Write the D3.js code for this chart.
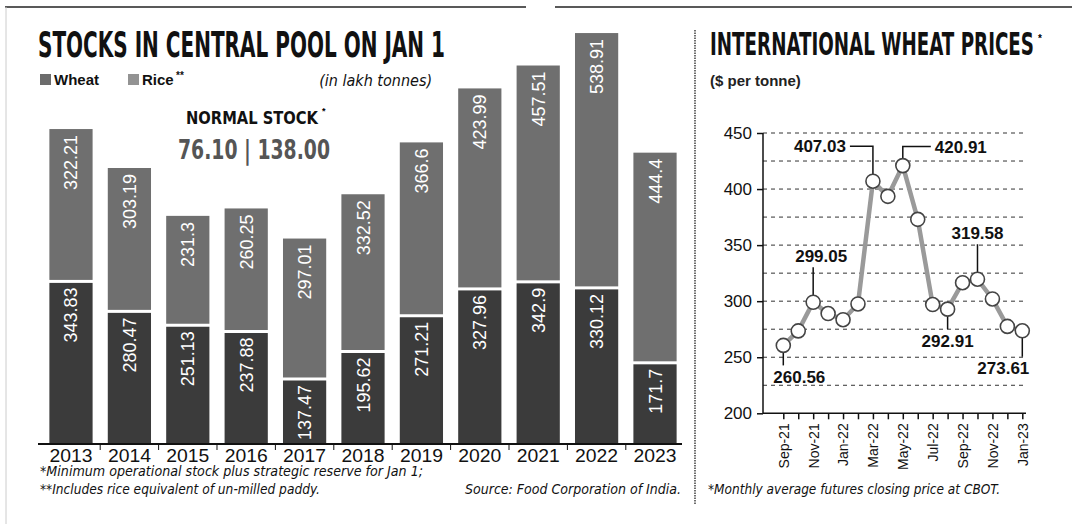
<!DOCTYPE html>
<html>
<head>
<meta charset="utf-8">
<script src="https://cdn.jsdelivr.net/npm/d3@7"></script>
<style>
  body { margin: 0; background: #fff; }
  svg { display: block; font-family: "Liberation Sans", Arial, sans-serif; }
  .cond { font-family: "Liberation Sans Narrow", "DejaVu Sans Condensed", sans-serif; }
</style>
</head>
<body>
<svg width="1072" height="524"></svg>
<script>
// ---- data: stocks in central pool (lakh tonnes) ----
const years = ["2013","2014","2015","2016","2017","2018","2019","2020","2021","2022","2023"];
const wheat = [343.83, 280.47, 251.13, 237.88, 137.47, 195.62, 271.21, 327.96, 342.9, 330.12, 171.7];
const rice  = [322.21, 303.19, 231.3, 260.25, 297.01, 332.52, 366.6, 423.99, 457.51, 538.91, 444.4];

// ---- data: international wheat prices ($ per tonne) ----
const months = ["Sep-21","Oct-21","Nov-21","Dec-21","Jan-22","Feb-22","Mar-22","Apr-22","May-22",
                "Jun-22","Jul-22","Aug-22","Sep-22","Oct-22","Nov-22","Dec-22","Jan-23"];
const prices = [260.56, 273.5, 299.05, 289, 283.5, 297.5, 407.03, 393.5, 420.91,
                373, 297, 292.91, 316.5, 319.58, 302, 277.5, 273.61];
const priceTicks = [200, 250, 300, 350, 400, 450];
const priceGrid = [225, 250, 275, 300, 325, 350, 375, 400, 425, 450];

const svg = d3.select("svg");
const wheatColor = "#3b3b3b", riceColor = "#6f6f6f";

// frame lines
svg.append("line").attr("x1", 5).attr("x2", 526).attr("y1", 7).attr("y2", 7)
  .attr("stroke", "#222").attr("stroke-width", 1.5);
svg.append("line").attr("x1", 555).attr("x2", 1072).attr("y1", 7).attr("y2", 7)
  .attr("stroke", "#222").attr("stroke-width", 1.5);
svg.append("line").attr("x1", 6).attr("x2", 6).attr("y1", 7).attr("y2", 524)
  .attr("stroke", "#ccc").attr("stroke-width", 1);
svg.append("line").attr("x1", 695).attr("x2", 695).attr("y1", 30).attr("y2", 505)
  .attr("stroke", "#222").attr("stroke-width", 1.3).attr("stroke-dasharray", "1.5,1");

// ================= left: stacked bars =================
const x = d3.scaleBand().domain(years).range([34.2, 691.8]).paddingInner(0.26).paddingOuter(0.26);
const y = d3.scaleLinear().domain([0, 870]).range([444, 32.6]);

svg.append("text").attr("class", "cond")
  .attr("x", 38).attr("y", 57)
  .attr("font-size", 36).attr("font-weight", "bold").attr("fill", "#111")
  .attr("textLength", 407).attr("lengthAdjust", "spacingAndGlyphs")
  .text("STOCKS IN CENTRAL POOL ON JAN 1");

// legend
const leg = svg.append("g");
[["Wheat", wheatColor, 40], ["Rice", riceColor, 128]].forEach(([name, col, lx]) => {
  leg.append("rect").attr("x", lx).attr("y", 74).attr("width", 11).attr("height", 11).attr("fill", col).attr("opacity", 0.75);
  leg.append("text").attr("x", lx + 14).attr("y", 85).attr("font-size", 15).attr("fill", "#111")
    .attr("font-weight", "bold").text(name);
});
leg.append("text").attr("x", 176).attr("y", 79).attr("font-size", 10).attr("font-weight", "bold").attr("fill", "#111").text("**");
svg.append("text").attr("class", "cond")
  .attr("x", 432).attr("y", 86).attr("text-anchor", "end")
  .attr("font-size", 16).attr("font-style", "italic").attr("fill", "#111")
  .text("(in lakh tonnes)");

// normal stock
svg.append("text").attr("class", "cond")
  .attr("x", 186).attr("y", 124)
  .attr("font-size", 17).attr("font-weight", "bold").attr("fill", "#111")
  .attr("textLength", 132).attr("lengthAdjust", "spacingAndGlyphs")
  .text("NORMAL STOCK");
svg.append("text").attr("x", 322).attr("y", 114).attr("font-size", 9).attr("font-weight", "bold").text("*");
svg.append("text").attr("class", "cond")
  .attr("x", 178).attr("y", 159)
  .attr("font-size", 26).attr("font-weight", "bold").attr("fill", "#555")
  .attr("textLength", 152).attr("lengthAdjust", "spacingAndGlyphs")
  .text("76.10 | 138.00");

const bars = svg.append("g").selectAll("g")
  .data(years.map((yr, i) => ({ yr, w: wheat[i], r: rice[i] })))
  .join("g");

bars.append("rect")
  .attr("x", d => x(d.yr)).attr("width", x.bandwidth())
  .attr("y", d => y(d.w + d.r)).attr("height", d => y(d.w) - y(d.w + d.r) - 1.5)
  .attr("fill", riceColor);
bars.append("rect")
  .attr("x", d => x(d.yr)).attr("width", x.bandwidth())
  .attr("y", d => y(d.w) + 1.5).attr("height", d => y(0) - y(d.w) - 1.5)
  .attr("fill", wheatColor);

const barLabel = (sel, yTop, val) => sel.append("text")
  .attr("transform", d => `translate(${x(d.yr) + x.bandwidth() / 2 + 6.5},${yTop(d) + 6}) rotate(-90)`)
  .attr("text-anchor", "end")
  .attr("font-size", 18).attr("fill", "#fff")
  .text(val);
barLabel(bars, d => y(d.w + d.r), d => d.r);
barLabel(bars, d => y(d.w), d => d.w);

// x axis
const xAxis = svg.append("g").attr("transform", `translate(0,${y(0)})`);
xAxis.append("line").attr("x1", 38).attr("x2", 682).attr("stroke", "#111").attr("stroke-width", 2);
xAxis.selectAll(".tk").data(years.slice(1)).join("line")
  .attr("x1", d => x(d) - x.step() * x.paddingInner() / 2)
  .attr("x2", d => x(d) - x.step() * x.paddingInner() / 2)
  .attr("y1", 0).attr("y2", 6).attr("stroke", "#111");
xAxis.selectAll(".yl").data(years).join("text")
  .attr("x", d => x(d) + x.bandwidth() / 2).attr("y", 17.5)
  .attr("text-anchor", "middle").attr("font-size", 18).attr("fill", "#111")
  .attr("textLength", 43).attr("lengthAdjust", "spacingAndGlyphs")
  .text(d => d);

// footnotes
const foot = (txt, fx, fy, len, anchor) => svg.append("text").attr("class", "cond")
  .attr("x", fx).attr("y", fy).attr("text-anchor", anchor || "start")
  .attr("font-size", 14).attr("font-style", "italic").attr("fill", "#111")
  .attr("textLength", len).attr("lengthAdjust", "spacingAndGlyphs")
  .text(txt);
foot("*Minimum operational stock plus strategic reserve for Jan 1;", 40, 476, 383);
foot("**Includes rice equivalent of un-milled paddy.", 40, 494, 280);
foot("Source: Food Corporation of India.", 465, 494, 216);
foot("*Monthly average futures closing price at CBOT.", 708, 494, 292);

// ================= right: wheat price line =================
svg.append("text").attr("class", "cond")
  .attr("x", 710).attr("y", 55)
  .attr("font-size", 32).attr("font-weight", "bold").attr("fill", "#111")
  .attr("textLength", 324).attr("lengthAdjust", "spacingAndGlyphs")
  .text("INTERNATIONAL WHEAT PRICES");
svg.append("text").attr("x", 1038).attr("y", 42).attr("font-size", 10).attr("font-weight", "bold").text("*");
svg.append("text")
  .attr("x", 710).attr("y", 86)
  .attr("font-size", 15).attr("font-weight", "bold").attr("fill", "#222")
  .text("($ per tonne)");

const px = d3.scalePoint().domain(months).range([783.3, 1022.3]);
const py = d3.scaleLinear().domain([200, 450]).range([413.3, 133]);

svg.append("g").selectAll("line").data(priceGrid).join("line")
  .attr("x1", 763).attr("x2", 1026)
  .attr("y1", d => py(d)).attr("y2", d => py(d))
  .attr("stroke", "#333").attr("stroke-width", 1).attr("stroke-dasharray", "4,4");

const yAx = svg.append("g").attr("transform", "translate(763,0)")
  .call(d3.axisLeft(py).tickValues(priceTicks).tickSize(6).tickPadding(5));
yAx.select(".domain").attr("stroke", "#111").attr("stroke-width", 1.5).attr("d", `M0,${py(450)}V${py(200)}`);
yAx.selectAll(".tick line").attr("stroke", "#111").attr("stroke-width", 1.5);
yAx.selectAll("text").attr("font-size", 17).attr("fill", "#111").attr("font-family", "Liberation Sans, Arial, sans-serif");

const xAx = svg.append("g").attr("transform", `translate(0,${py(200)})`)
  .call(d3.axisBottom(px).tickSize(6).tickFormat((d, i) => i % 2 === 0 ? d : ""));
xAx.select(".domain").attr("stroke", "#111").attr("stroke-width", 1.5).attr("d", "M763,0H1026");
xAx.selectAll(".tick line").attr("stroke", "#111").attr("stroke-width", 1.5);
xAx.selectAll("text")
  .attr("transform", "rotate(-90)")
  .attr("text-anchor", "end").attr("dy", "0.35em").attr("x", -10).attr("y", 0)
  .attr("font-size", 14).attr("fill", "#111").attr("font-family", "Liberation Sans, Arial, sans-serif");

const pts = months.map((m, i) => ({ m, v: prices[i] }));
svg.append("path").datum(pts)
  .attr("fill", "none").attr("stroke", "#9a9a9a").attr("stroke-width", 4.5)
  .attr("d", d3.line().x(d => px(d.m)).y(d => py(d.v)));

// annotation leaders (drawn before circles)
const ann = svg.append("g");
const lbl = (txt, ax, ay, anchor) => ann.append("text")
  .attr("x", ax).attr("y", ay).attr("text-anchor", anchor)
  .attr("font-size", 17).attr("font-weight", "bold").attr("fill", "#111").text(txt);
const lead = pathStr => ann.append("path").attr("d", pathStr).attr("fill", "none")
  .attr("stroke", "#111").attr("stroke-width", 1.5);

const at = m => ({ cx: px(m), cy: py(prices[months.indexOf(m)]), v: prices[months.indexOf(m)] });
let a;
a = at("Sep-21");  lead(`M${a.cx},${a.cy}V${a.cy + 20}`); lbl(a.v.toFixed(2), a.cx - 10, a.cy + 38, "start");
a = at("Nov-21");  lead(`M${a.cx},${a.cy}V${a.cy - 35}`); lbl(a.v.toFixed(2), a.cx + 8, a.cy - 40, "middle");
a = at("Mar-22");  lead(`M${a.cx},${a.cy}V${a.cy - 35}H${a.cx - 23}`); lbl(a.v.toFixed(2), a.cx - 27, a.cy - 29, "end");
a = at("May-22");  lead(`M${a.cx},${a.cy}V${a.cy - 19}H${a.cx + 28}`); lbl(a.v.toFixed(2), a.cx + 32, a.cy - 13, "start");
a = at("Aug-22");  lead(`M${a.cx},${a.cy}V${a.cy + 20}`); lbl(a.v.toFixed(2), a.cx, a.cy + 38, "middle");
a = at("Oct-22");  lead(`M${a.cx},${a.cy}V${a.cy - 35}`); lbl(a.v.toFixed(2), a.cx, a.cy - 40, "middle");
a = at("Jan-23");  lead(`M${a.cx},${a.cy}V${a.cy + 26}`); lbl(a.v.toFixed(2), a.cx + 7, a.cy + 43, "end");

svg.append("g").selectAll("circle").data(pts).join("circle")
  .attr("cx", d => px(d.m)).attr("cy", d => py(d.v)).attr("r", 7)
  .attr("fill", "#fff").attr("stroke", "#444").attr("stroke-width", 1.6);
</script>
</body>
</html>
